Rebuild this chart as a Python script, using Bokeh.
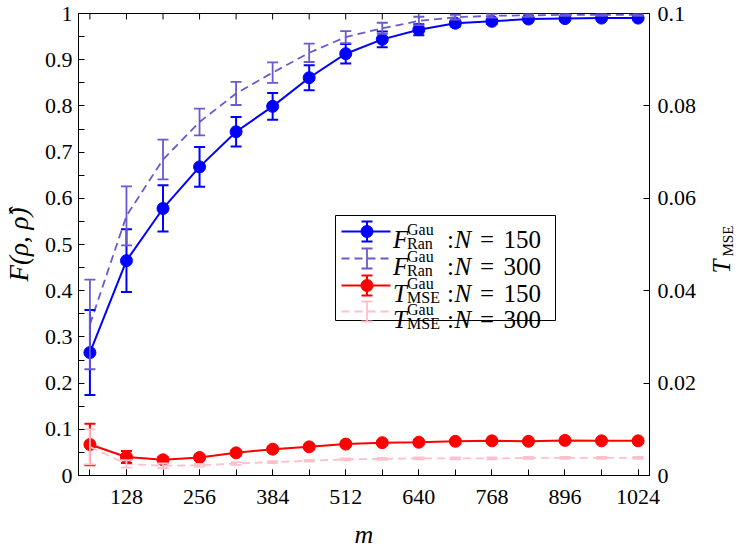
import numpy as np
from bokeh.plotting import figure
from bokeh.layouts import row
from bokeh.models import (Range1d, LinearAxis, FixedTicker, CustomJSTickFormatter,
                          Whisker, TeeHead, ColumnDataSource, Label)
from bokeh.embed import file_html
from bokeh.resources import INLINE

# ---------------- data ----------------
m = [64, 128, 192, 256, 320, 384, 448, 512, 576, 640, 704, 768, 832, 896, 960, 1024]

F150 = [0.266, 0.465, 0.578, 0.668, 0.744, 0.799, 0.861, 0.913, 0.944, 0.965,
        0.979, 0.983, 0.988, 0.989, 0.990, 0.990]
F150_err = [0.092, 0.068, 0.050, 0.043, 0.032, 0.029, 0.027, 0.021, 0.017, 0.012,
            0.007, 0.005, 0.004, 0.003, 0.003, 0.003]

F300 = [0.327, 0.562, 0.684, 0.765, 0.827, 0.872, 0.915, 0.949, 0.968, 0.984,
        0.992, 0.995, 0.996, 0.997, 0.997, 0.997]
F300_err = [0.097, 0.064, 0.043, 0.029, 0.025, 0.022, 0.020, 0.013, 0.012, 0.009,
            0.005, 0.004, 0.003, 0.002, 0.002, 0.002]

T150 = [0.0067, 0.0040, 0.0034, 0.0039, 0.0049, 0.0057, 0.0062, 0.0068, 0.0071, 0.0072,
        0.0074, 0.0075, 0.0074, 0.0076, 0.0075, 0.0075]
T150_err = [0.0045, 0.0013, 0.0006, 0.0005, 0.0005, 0.0005, 0.0005, 0.0004, 0.0004, 0.0004,
            0.0003, 0.0003, 0.0003, 0.0003, 0.0003, 0.0003]

T300 = [0.0062, 0.0025, 0.0021, 0.0022, 0.0026, 0.0029, 0.0032, 0.0035, 0.0036, 0.0037,
        0.0037, 0.0037, 0.0038, 0.0038, 0.0038, 0.0038]
T300_err = [0.0038, 0.0008, 0.0005, 0.0003, 0.0003, 0.0002, 0.0002, 0.0002, 0.0002, 0.0002,
            0.0002, 0.0002, 0.0002, 0.0002, 0.0002, 0.0002]

x_ticks = [128, 256, 384, 512, 640, 768, 896, 1024]
y_ticks = [0, 0.1, 0.2, 0.3, 0.4, 0.5, 0.6, 0.7, 0.8, 0.9, 1.0]
y_minor = [0.05, 0.15, 0.25, 0.35, 0.45, 0.55, 0.65, 0.75, 0.85, 0.95]
t_ticks = [0, 0.02, 0.04, 0.06, 0.08, 0.1]

legend_N = ["150", "300", "150", "300"]

# ---------------- style / layout ----------------
BLUE = "#0000ff"
PURPLE = "#6a5acd"
RED = "#ff0000"
PINK = "#ffc0cb"
FONT = "Liberation Serif"
DASH = "8 5"

BL, BR, BT, BB = 74, 48, 13, 58      # borders of main figure
FW, FH = 571, 462                    # frame size
OFF_X, OFF_Y = 8, 2                  # where the canvas lands in the picture
FRAME_L = OFF_X + BL
FRAME_T = OFF_Y + BT
FRAME_B = FRAME_T + FH

p = figure(frame_width=FW, frame_height=FH, output_backend="svg", toolbar_location=None,
           x_range=Range1d(44, 1044), y_range=Range1d(0, 1),
           min_border_left=BL, min_border_right=BR, min_border_top=BT, min_border_bottom=BB)
p.extra_y_ranges = {"t": Range1d(0, 0.1)}
p.grid.visible = False
p.outline_line_color = "black"
p.outline_line_width = 1
p.background_fill_color = "white"
p.border_fill_color = "white"


def style_axis(ax):
    ax.major_tick_in = 6
    ax.major_tick_out = 0
    ax.minor_tick_in = 6
    ax.minor_tick_out = 0
    ax.axis_line_color = "black"
    ax.major_tick_line_color = "black"
    ax.minor_tick_line_color = "black"
    ax.major_label_text_font = FONT
    ax.major_label_text_font_size = "22px"
    ax.major_label_text_color = "black"
    ax.axis_label_text_font = FONT
    ax.axis_label_text_font_style = "italic"
    ax.axis_label_text_color = "black"


xa = p.xaxis[0]
style_axis(xa)
xa.ticker = FixedTicker(ticks=x_ticks, minor_ticks=m)
xa.major_label_standoff = 14
xa.axis_label = "m"
xa.axis_label_text_font_size = "26px"
xa.axis_label_standoff = 13

ya = p.yaxis[0]
style_axis(ya)
ya.ticker = FixedTicker(ticks=y_ticks, minor_ticks=y_minor)
ya.formatter = CustomJSTickFormatter(code="return (Math.round(tick*100)/100).toString();")
ya.major_label_standoff = 6
ya.axis_label = "F(\u03c1, \u03c1\u0302)"
ya.axis_label_text_font_size = "27px"
ya.axis_label_standoff = 8

ra = LinearAxis(y_range_name="t",
                ticker=FixedTicker(ticks=t_ticks, minor_ticks=[]),
                formatter=CustomJSTickFormatter(code="return (Math.round(tick*1000)/1000).toString();"))
style_axis(ra)
ra.major_label_standoff = 8
p.add_layout(ra, "right")


def px2x(px):
    return 44 + (px - FRAME_L) * (1000.0 / FW)


def py2y(py):
    return (FRAME_B - py) / float(FH)


# mirrored ticks on the top edge (inside the frame)
p.segment(x0=m, x1=m, y0=[1.0] * len(m), y1=[1.0 - 6.0 / FH] * len(m),
          line_color="black", line_width=1)


# ---------------- series ----------------
def add_series(y, err, color, dash, marker, lw, rname="default"):
    lo = [a - e for a, e in zip(y, err)]
    hi = [a + e for a, e in zip(y, err)]
    src = ColumnDataSource(dict(x=m, y=y, lo=lo, hi=hi))
    p.line("x", "y", source=src, line_color=color, line_width=lw, line_dash=dash,
           y_range_name=rname)
    w = Whisker(source=src, base="x", lower="lo", upper="hi", dimension="height",
                line_color=color, line_width=lw, level="glyph", y_range_name=rname,
                upper_head=TeeHead(size=11, line_color=color, line_width=lw),
                lower_head=TeeHead(size=11, line_color=color, line_width=lw))
    p.add_layout(w)
    if marker:
        p.scatter("x", "y", source=src, size=12, fill_color=color, line_color=color,
                  y_range_name=rname)


add_series(F150, F150_err, BLUE, "solid", True, 2)
add_series(F300, F300_err, PURPLE, DASH, False, 1.8)
add_series(T150, T150_err, RED, "solid", True, 2, "t")
add_series(T300, T300_err, PINK, DASH, False, 1.8, "t")

# ---------------- legend (drawn by hand) ----------------
p.quad(left=[px2x(339)], right=[px2x(559)], top=[py2y(217)], bottom=[py2y(322)],
       fill_color="white", line_color="black", line_width=1)

rows = [233, 260, 287, 313]
specs = [(BLUE, "solid", True, "F", "Ran"),
         (PURPLE, DASH, False, "F", "Ran"),
         (RED, "solid", True, "T", "MSE"),
         (PINK, DASH, False, "T", "MSE")]

for c, (col, dash, mk, let, sub), nval in zip(rows, specs, legend_N):
    lw = 2 if mk else 1.8
    p.line([px2x(345), px2x(394)], [py2y(c), py2y(c)], line_color=col, line_width=lw,
           line_dash=dash)
    lsrc = ColumnDataSource(dict(x=[px2x(370.5)], lo=[py2y(c + 10)], hi=[py2y(c - 10)]))
    p.add_layout(Whisker(source=lsrc, base="x", lower="lo", upper="hi", dimension="height",
                         line_color=col, line_width=lw, level="glyph",
                         upper_head=TeeHead(size=11, line_color=col, line_width=lw),
                         lower_head=TeeHead(size=11, line_color=col, line_width=lw)))
    if mk:
        p.scatter([px2x(370.5)], [py2y(c)], size=12, fill_color=col, line_color=col)
    base = c + 7.5
    pieces = [(let, 396.5, base, "25px", "italic"),
              ("Gau", 410.5, c - 2, "16px", "normal"),
              (sub, 410.5, c + 12, "16px", "normal"),
              (":", 450.5, base, "25px", "normal"),
              ("N", 458.0, base, "25px", "italic"),
              ("=", 483.5, base, "25px", "normal"),
              (nval, 507.0, base, "25px", "normal")]
    for txt, xx, yy, fs, st in pieces:
        p.add_layout(Label(x=px2x(xx), y=py2y(yy), text=txt, text_font=FONT,
                           text_font_size=fs, text_font_style=st, text_color="black",
                           text_align="left", text_baseline="alphabetic"))

# ---------------- right axis title T_MSE in a narrow side panel ----------------
MAIN_W = BL + FW + BR
SIDE_W = 731 - MAIN_W
SIDE_L = OFF_X + MAIN_W
q = figure(width=SIDE_W, frame_height=FH, output_backend="svg", toolbar_location=None,
           x_range=Range1d(0, SIDE_W), y_range=Range1d(-FRAME_B, -FRAME_T),
           min_border_left=0, min_border_right=0, min_border_top=BT, min_border_bottom=BB,
           x_axis_type=None, y_axis_type=None)
q.grid.visible = False
q.outline_line_color = None
q.background_fill_color = "white"
q.border_fill_color = "white"

q.add_layout(Label(x=723 - SIDE_L, y=-275, text="T", text_font=FONT, text_font_size="25px",
                   text_font_style="italic", text_color="black", angle=np.pi / 2,
                   text_align="left", text_baseline="alphabetic"))
q.add_layout(Label(x=729 - SIDE_L, y=-258, text="MSE", text_font=FONT, text_font_size="15px",
                   text_font_style="normal", text_color="black", angle=np.pi / 2,
                   text_align="left", text_baseline="alphabetic"))

layout = row(p, q)
open("out.html", "w").write(file_html(layout, INLINE))
